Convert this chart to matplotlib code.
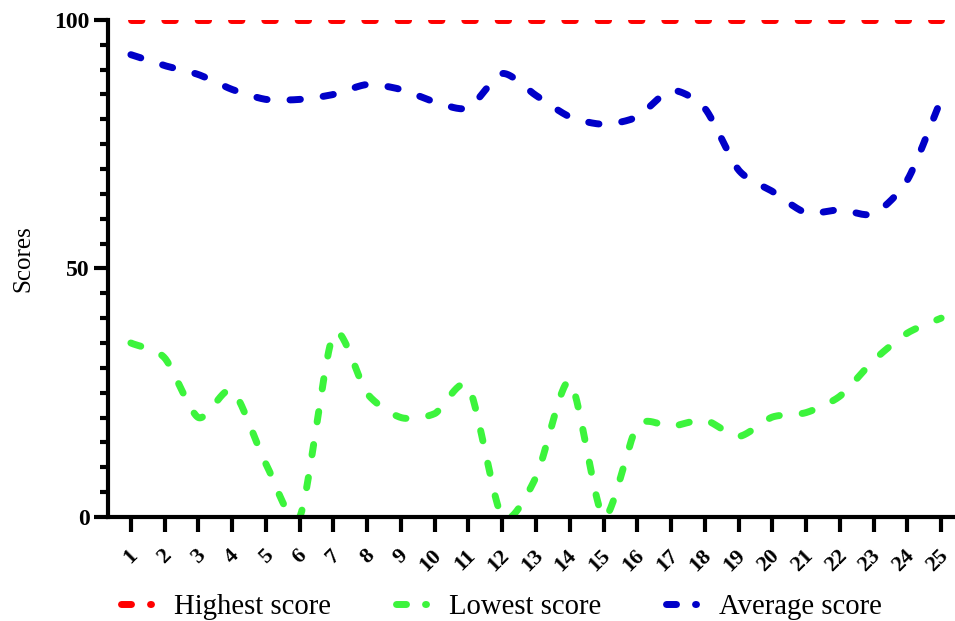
import numpy as np
import matplotlib
matplotlib.use("Agg")
import matplotlib.pyplot as plt
import matplotlib.transforms as mtransforms
from matplotlib.lines import Line2D

plt.rcParams['font.family'] = ['Liberation Serif', 'DejaVu Serif']

days = list(range(1, 26))
day_labels = [str(d) for d in days]
highest = [100] * 25
average = [93, 90.8, 89, 86, 84, 84, 85, 87, 86, 83.5, 82.3, 89.2, 84.8, 80.5, 79,
           80.5, 85.8, 82.2, 69.8, 65.5, 61.2, 61.8, 61, 67.8, 84]
lowest = [35, 32, 20, 25.5, 10.7, 0, 36.8, 24.8, 20, 20.8, 26.2, 0, 8, 27.3, 0,
          18.3, 18.2, 19.5, 16.2, 20.1, 21, 24.3, 31.5, 37, 40]
series_names = ["Highest score", "Lowest score", "Average score"]
colors = ["#FF0000", "#3CF43C", "#0000C8"]


def smooth(xs, ys, n=30, c=0.75):
    xs = np.asarray(xs, float)
    ys = np.asarray(ys, float)
    m = len(xs)
    tx = np.zeros(m)
    ty = np.zeros(m)
    for i in range(m):
        a = max(i - 1, 0)
        b = min(i + 1, m - 1)
        tx[i] = c * (xs[b] - xs[a]) / (b - a)
        ty[i] = c * (ys[b] - ys[a]) / (b - a)
    ox, oy = [], []
    t = np.linspace(0, 1, n, endpoint=False)
    h00 = 2 * t**3 - 3 * t**2 + 1
    h10 = t**3 - 2 * t**2 + t
    h01 = -2 * t**3 + 3 * t**2
    h11 = t**3 - t**2
    for i in range(m - 1):
        ox.append(h00 * xs[i] + h10 * tx[i] + h01 * xs[i + 1] + h11 * tx[i + 1])
        oy.append(h00 * ys[i] + h10 * ty[i] + h01 * ys[i + 1] + h11 * ty[i + 1])
    ox.append([xs[-1]])
    oy.append([ys[-1]])
    return np.concatenate(ox), np.concatenate(oy)


fig = plt.figure(figsize=(9.55, 6.21), dpi=100)
ax = fig.add_axes([0.113, 0.1675, 0.887, 0.8005])

lw = 5
dash = (1.5, 3.3)
handles = []
for name, vals, col in zip(series_names, [highest, lowest, average], colors):
    sx, sy = smooth(days, vals)
    ax.plot(sx, sy, color=col, lw=lw, dashes=dash, dash_capstyle='round',
            solid_capstyle='round', clip_on=True)
    handles.append(Line2D([0], [0], color=col, lw=lw, dashes=(1.44, 2.74),
                          dash_capstyle='round', label=name))

ax.set_xlim(0.32, 25.41)
ax.set_ylim(0, 100)
for s in ['top', 'right']:
    ax.spines[s].set_visible(False)
for s in ['left', 'bottom']:
    ax.spines[s].set_linewidth(3)
ax.set_xticks(days)
ax.set_xticklabels([])
lab_trans = ax.get_xaxis_transform() + mtransforms.ScaledTranslation(
    4 / 100, -35.5 / 100, fig.dpi_scale_trans)
for d, lab in zip(days, day_labels):
    ax.text(d, 0, lab, transform=lab_trans, rotation=45, ha='right', va='center',
            rotation_mode='anchor', fontsize=16, fontweight='bold', clip_on=False)
ax.set_yticks([0, 50, 100])
ax.set_yticklabels(['0', '50', '100'], fontsize=17, fontweight='bold')
ax.set_yticks(np.arange(0, 101, 5), minor=True)
ax.tick_params(axis='y', which='major', length=10, width=3, pad=3)
ax.tick_params(axis='y', which='minor', length=6, width=3)
ax.tick_params(axis='x', which='major', length=11, width=3, pad=16)
ax.set_ylabel("Scores", fontsize=18)
ax.yaxis.set_label_coords(-0.0874, 0.519)

fig.legend(handles=handles, loc='center', bbox_to_anchor=(0.525, 0.022),
           ncol=3, frameon=False, fontsize=20.7, handlelength=1.05,
           handletextpad=0.8, columnspacing=2.25)

fig.savefig("out.png", dpi=100)
